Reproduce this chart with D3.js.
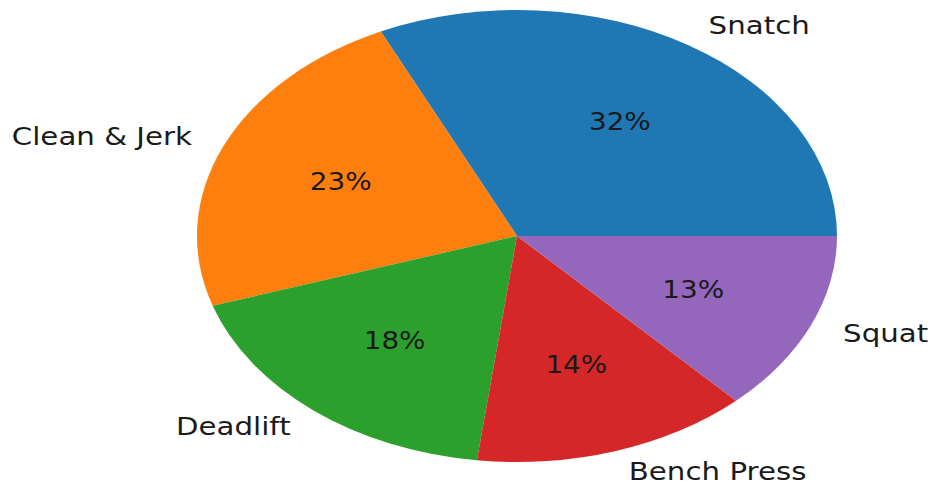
<!DOCTYPE html>
<html>
<head>
<meta charset="utf-8">
<script src="https://cdn.jsdelivr.net/npm/d3@7"></script>
<style>
  html, body { margin: 0; padding: 0; background: #fff; }
  svg { display: block; }
  text { font-family: "DejaVu Sans", sans-serif; fill: #1a1a1a; }
</style>
</head>
<body>
<svg id="chart" width="932" height="488"></svg>
<script>
// Share of training volume by lift
const lifts = ["Snatch", "Clean & Jerk", "Deadlift", "Bench Press", "Squat"];
const shares = [32, 23, 18, 14, 13];
const colors = ["#1f77b4", "#ff7f0e", "#2ca02c", "#d62728", "#9467bd"];

const W = 932, H = 488;
const cx = 517, cy = 236;
const rx = 320, ry = 226;      // the pie is drawn as an ellipse
const labelScaleX = 1.22;      // text shares the horizontal stretch
const pctScaleX = 1.16;

const svg = d3.select("#chart");

// Start at 3 o'clock and run counter-clockwise
const pie = d3.pie()
  .sort(null)
  .value(d => d.value)
  .startAngle(Math.PI / 2)
  .endAngle(Math.PI / 2 - 2 * Math.PI);

const data = lifts.map((name, i) => ({ name, value: shares[i], color: colors[i] }));
const arcs = pie(data);

const arc = d3.arc().innerRadius(0).outerRadius(ry);

const g = svg.append("g")
  .attr("transform", `translate(${cx},${cy}) scale(${rx / ry},1)`);

g.selectAll("path")
  .data(arcs)
  .join("path")
  .attr("d", arc)
  .attr("fill", d => d.data.color);

// Point on the ellipse at a fraction of the radius along the slice's mid-angle
function pointAt(d, f) {
  const a = (d.startAngle + d.endAngle) / 2;
  return [cx + f * rx * Math.sin(a), cy - f * ry * Math.cos(a)];
}

const fontSize = 24;

// Category labels outside the pie
arcs.forEach(d => {
  const [x, y] = pointAt(d, 1.1);
  const left = x >= cx;
  svg.append("text")
    .attr("transform", `translate(${x + (left ? 3 : -2)},${y - 1}) scale(${labelScaleX},1)`)
    .attr("text-anchor", left ? "start" : "end")
    .attr("dominant-baseline", "central")
    .attr("font-size", fontSize)
    .text(d.data.name);
});

// Percentage labels inside the slices
arcs.forEach(d => {
  const [x, y] = pointAt(d, 0.6);
  svg.append("text")
    .attr("transform", `translate(${x},${y}) scale(${pctScaleX},1)`)
    .attr("text-anchor", "middle")
    .attr("dominant-baseline", "central")
    .attr("font-size", fontSize)
    .text(d3.format(".0f")(d.data.value) + "%");
});
</script>
</body>
</html>
